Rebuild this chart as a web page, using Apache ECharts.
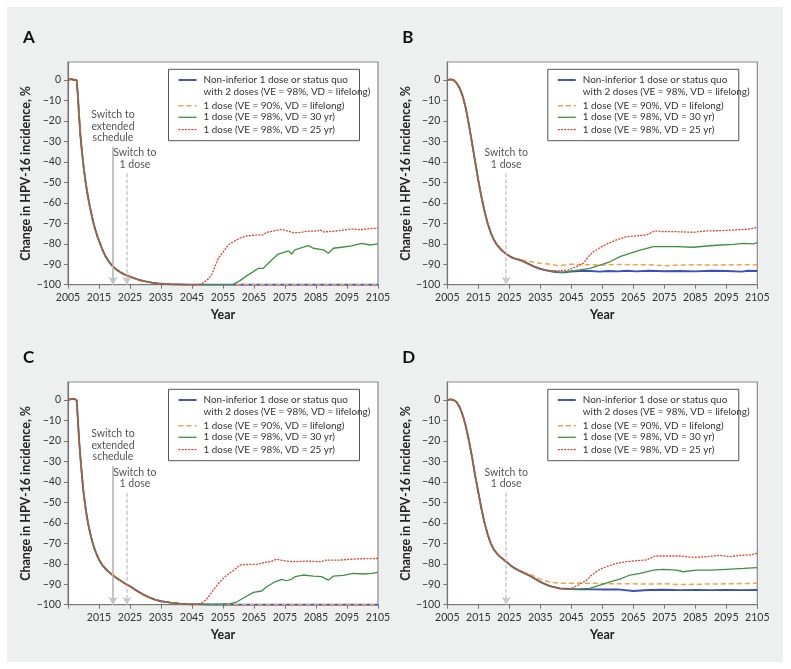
<!DOCTYPE html>
<html><head><meta charset="utf-8">
<script src="https://cdn.jsdelivr.net/npm/echarts@6/dist/echarts.min.js"></script>
<style>html,body{margin:0;padding:0;background:#fff}#c{width:791px;height:669px}</style>
</head><body><div id="c"></div>
<script>
// ---------- tick labels ----------
const xTicks = [2005,2015,2025,2035,2045,2055,2065,2075,2085,2095,2105];
const xTicksC = [2015,2025,2035,2045,2055,2065,2075,2085,2095,2105];
const yTicks = [0,-10,-20,-30,-40,-50,-60,-70,-80,-90,-100];

// ---------- series names ----------
const seriesNames = [
  'Non-inferior 1 dose or status quo with 2 doses (VE = 98%, VD = lifelong)',
  '1 dose (VE = 90%, VD = lifelong)',
  '1 dose (VE = 98%, VD = 30 yr)',
  '1 dose (VE = 98%, VD = 25 yr)'
];
const legendLines = [
  'Non-inferior 1 dose or status quo',
  'with 2 doses (VE = 98%, VD = lifelong)',
  '1 dose (VE = 90%, VD = lifelong)',
  '1 dose (VE = 98%, VD = 30 yr)',
  '1 dose (VE = 98%, VD = 25 yr)'
];

// ---------- Panel A ----------
const A_base = [[2005,0],[2005.5,0.3],[2006,0.5],[2006.5,0.2],[2007,0],[2007.8,0],[2008.2,-8],[2008.6,-18],[2009,-27],[2009.5,-35],[2010,-42],[2010.5,-48],[2011,-53],[2011.5,-57.5],[2012,-61.5],[2012.5,-65],[2013,-68.5],[2013.5,-71.5],[2014,-74],[2014.5,-76.5],[2015,-78.5],[2016,-82.5],[2017,-85.8],[2018,-88.3],[2019,-90.3],[2020,-91.8],[2021,-93],[2022,-94],[2023,-94.8],[2024,-95.5],[2025,-96.1],[2026,-96.7],[2027,-97.2],[2028,-97.7],[2030,-98.4],[2032,-99],[2034,-99.4],[2036,-99.6],[2038,-99.8],[2041,-99.9],[2044,-100],[2047,-100]];
const A_blue = [[2060,-100],[2105,-100]];
const A_orange = [[2060,-100],[2105,-100]];
const A_green = [[2058.3,-99.8],[2060.5,-98],[2062.6,-95.7],[2064.8,-93.6],[2066.4,-92],[2068,-92],[2070.2,-88.7],[2072.8,-85],[2074.5,-84.3],[2076.1,-83.5],[2077.2,-85],[2078.2,-83],[2080.9,-81.7],[2082.5,-80.9],[2084.1,-82.2],[2087.4,-83],[2089,-84.6],[2090.6,-82.2],[2093.3,-81.7],[2096.5,-81],[2099.7,-79.8],[2102.4,-80.6],[2105,-80.1]];
const A_red = [[2048,-99.7],[2049.7,-98],[2051.3,-95.3],[2052.4,-91.2],[2053.5,-87.1],[2055.1,-83.9],[2056.7,-80.6],[2058.3,-79],[2060.5,-77.3],[2062.6,-76.2],[2065.9,-75.7],[2068,-75.7],[2069.1,-74.4],[2071.2,-73.8],[2073.9,-73],[2075.5,-73.6],[2077.7,-74.6],[2079.8,-74.6],[2082,-73.9],[2085.2,-73.8],[2086.3,-73.1],[2087.4,-74.2],[2090.6,-73.9],[2093.8,-73.3],[2096.5,-72.8],[2099.2,-73.1],[2102.4,-72.6],[2105,-72.4]];

// ---------- Panel B ----------
const B_base = [[2005,0],[2006,0.3],[2007,0],[2008,-1.5],[2009,-4],[2010,-8],[2011,-14],[2012,-22],[2013,-31],[2014,-40],[2015,-49],[2016,-57],[2017,-64],[2018,-70],[2019,-74.5],[2020,-78],[2021,-80.5],[2022,-82.3],[2023,-83.8],[2024,-85],[2025,-86],[2026,-86.8],[2027,-87.4],[2028,-87.7]];
const B_blue = [[2029,-88.2],[2030,-89],[2031.7,-90.2],[2033,-91.2],[2034.9,-92.2],[2036.5,-92.9],[2038.1,-93.3],[2040,-93.8],[2041.3,-94],[2043,-93.9],[2044.6,-93.6],[2047.8,-93.3],[2051,-93.3],[2054.2,-93.6],[2057,-93.3],[2060,-93.5],[2063,-93.2],[2066,-93.5],[2070,-93.2],[2075,-93.4],[2080,-93.3],[2085,-93.5],[2090,-93.2],[2095,-93.3],[2100,-93.6],[2102,-93.2],[2105,-93.3]];
const B_orange = [[2029,-87.9],[2031.7,-88.7],[2034.9,-89.5],[2038.1,-90],[2040.8,-90.8],[2044.6,-90],[2050,-90.2],[2055,-90.4],[2060,-90.1],[2065,-90.3],[2070,-90.2],[2075,-90.7],[2080,-90.4],[2085,-90.2],[2090,-90.4],[2095,-90.3],[2100,-90.3],[2105,-90.3]];
const B_green = [[2029,-88.2],[2030,-89],[2031.7,-90.2],[2033,-91.2],[2034.9,-92.2],[2036.5,-92.9],[2038.1,-93.3],[2040,-93.8],[2041.3,-94],[2043,-93.9],[2044.6,-93.4],[2047.8,-92.8],[2051,-92],[2054.2,-90.4],[2057.5,-88.8],[2060.7,-86.3],[2063.9,-84.7],[2067.2,-83.1],[2071.5,-81.4],[2074.7,-81.4],[2079,-81.4],[2084.4,-81.7],[2088.7,-81.1],[2093,-80.6],[2097.3,-80.3],[2100.5,-79.8],[2103.7,-80.1],[2105,-79.5]];
const B_red = [[2029,-88.2],[2030,-89],[2031.7,-90.2],[2033,-91.2],[2034.9,-92.2],[2036.5,-92.8],[2038.1,-93.1],[2041.3,-93.2],[2044,-92.8],[2046.7,-91.2],[2048.9,-89.5],[2050.5,-86.3],[2052.1,-83.9],[2054.8,-81.4],[2056.9,-79.8],[2059.6,-78.1],[2062.8,-76.5],[2065.5,-76.2],[2069.3,-75.7],[2072,-73.7],[2074.7,-74.1],[2079,-74.1],[2084.4,-74.4],[2088.7,-73.7],[2093,-73.6],[2097.3,-73.3],[2101.6,-72.9],[2103.7,-72.5],[2105,-72]];

// ---------- Panel C ----------
const C_base = [[2005,0],[2006,0.5],[2007,0.5],[2007.8,0],[2008.2,-10],[2008.6,-20],[2009,-28],[2009.5,-37],[2010,-45],[2010.5,-51],[2011,-56],[2011.5,-60.5],[2012,-64],[2012.5,-67.3],[2013,-70],[2013.5,-72.5],[2014,-74.5],[2015,-78],[2016,-80.5],[2017,-82.3],[2018,-83.8],[2019,-85],[2020,-86.2],[2021,-87.3],[2022,-88.3],[2023,-89.3],[2024,-90.2],[2025,-91],[2027,-93],[2029,-94.8],[2031,-96.3],[2033,-97.5],[2035,-98.3],[2038,-99],[2041,-99.5],[2044,-99.8],[2047,-99.8]];
const C_blue = [[2052,-100],[2105,-100]];
const C_orange = [[2052,-100],[2105,-100]];
const C_green = [[2050,-99.8],[2057.3,-99.5],[2059.4,-98.7],[2061.6,-96.7],[2064.8,-94],[2067.5,-93.3],[2069.1,-91.2],[2071.8,-88.8],[2074,-87.6],[2075.5,-88.3],[2077.2,-87.5],[2078.2,-86.3],[2080.9,-85.5],[2084.1,-86],[2086.8,-86.3],[2089,-88],[2090.6,-86],[2093.8,-85.7],[2097,-84.7],[2100.3,-85],[2103,-84.7],[2105,-84.2]];
const C_red = [[2048,-99.4],[2049.7,-97.4],[2051.9,-92.8],[2054,-88.8],[2056.2,-85.5],[2058.3,-83.4],[2060.5,-80.6],[2063.7,-80.3],[2065.9,-80.3],[2068,-79.5],[2070.2,-79],[2072.3,-77.8],[2074.5,-78.5],[2077.7,-79],[2082,-78.7],[2086.3,-79],[2088.4,-78.2],[2092.7,-78.2],[2097,-77.7],[2101.3,-77.5],[2105,-77.4]];

// ---------- Panel D ----------
const D_base = [[2005,0],[2006,0.3],[2007,0],[2008,-1],[2009,-3.5],[2010,-7.5],[2011,-13],[2012,-20],[2013,-28],[2014,-37],[2015,-45],[2016,-53],[2017,-60],[2018,-65.5],[2019,-70],[2020,-73],[2021,-75],[2022,-76.5],[2023,-77.8],[2024,-79],[2025,-80.3],[2026,-81.5],[2027,-82.4],[2028,-83.2]];
const D_blue = [[2029,-84],[2031.7,-85.9],[2034.9,-88.8],[2038.1,-90.9],[2041.3,-92],[2044.6,-92.3],[2047.8,-92.5],[2052,-92.5],[2056,-92.6],[2060,-92.5],[2065,-93.3],[2070,-92.8],[2075,-92.7],[2080,-92.9],[2085,-92.8],[2090,-92.9],[2095,-92.8],[2100,-92.9],[2105,-92.8]];
const D_orange = [[2029,-84],[2031.7,-85.1],[2034.9,-87.5],[2038.1,-89],[2041.3,-89.5],[2044.6,-89.5],[2050,-89.5],[2055,-89.7],[2060,-89.8],[2065,-89.8],[2070,-89.9],[2075,-89.8],[2080,-90.2],[2085,-90],[2090,-89.9],[2095,-89.8],[2100,-89.7],[2105,-89.5]];
const D_green = [[2029,-84],[2031.7,-85.9],[2034.9,-88.8],[2038.1,-90.9],[2041.3,-92],[2044.6,-92.5],[2047.8,-92.3],[2051,-92],[2054.2,-90.4],[2057.5,-88.8],[2060.7,-87.5],[2063.9,-85.5],[2067.2,-84.7],[2071.5,-83.1],[2074.7,-82.7],[2079,-83.1],[2081.1,-83.9],[2085.4,-83.1],[2089.7,-83.1],[2095.1,-82.7],[2100.5,-82.3],[2105,-81.9]];
const D_red = [[2029,-84],[2031.7,-85.9],[2034.9,-88.8],[2038.1,-90.9],[2041.3,-92.2],[2044.6,-92.3],[2047.3,-90.4],[2050,-87.9],[2051.6,-85.5],[2054.2,-82.7],[2056.9,-81.1],[2059.6,-79.8],[2062.8,-79],[2066.1,-78.5],[2069.3,-78.1],[2072,-76.2],[2074.7,-76.2],[2080.1,-76.2],[2084.4,-76.9],[2088.7,-76.5],[2093,-75.9],[2096.2,-76.5],[2099.4,-75.9],[2102.6,-75.7],[2105,-74.9]];

// ---------- switch events (year, arrow top value, label) ----------
const A_switches = [[2019.5,-32.6,'Switch to\nextended\nschedule','solid'],[2024,-45.6,'Switch to\n1 dose','dashed']];
const B_switches = [[2024,-45.5,'Switch to\n1 dose','dashed']];
const C_switches = [[2019.5,-32.2,'Switch to\nextended\nschedule','solid'],[2024,-45.3,'Switch to\n1 dose','dashed']];
const D_switches = [[2024,-45.3,'Switch to\n1 dose','dashed']];

// ---------- styling ----------
const FONT = 'Lato, "Noto Sans", sans-serif';
const colors = ['#3b4fb8','#f6a04a','#3f9142','#e2402f'];
const widths = [1.9,1.5,1.3,1.3];
const dashes = ['solid',[5,3],'solid',[2,1.2]];

const panels = [
  {letter:'A', left:68, top:62, base:A_base, tails:[A_blue,A_orange,A_green,A_red], sw:A_switches, xl:xTicks},
  {letter:'B', left:447.3, top:62, base:B_base, tails:[B_blue,B_orange,B_green,B_red], sw:B_switches, xl:xTicks},
  {letter:'C', left:68, top:382, base:C_base, tails:[C_blue,C_orange,C_green,C_red], sw:C_switches, xl:xTicksC},
  {letter:'D', left:447.3, top:382, base:D_base, tails:[D_blue,D_orange,D_green,D_red], sw:D_switches, xl:xTicks}
];
const PW = 310, PH = 222.7;

const grid = [], xAxis = [], yAxis = [], series = [], title = [];
const graphic = [{type:'rect', shape:{x:7,y:7,width:776,height:655}, style:{fill:'#eef0ef'}, z:-10, silent:true}];
const minus = v => String(v).replace('-', '\u2212');

panels.forEach((p, i) => {
  grid.push({left:p.left, top:p.top, width:PW, height:PH, show:true, backgroundColor:'#fff', borderColor:'#8a8a8a', borderWidth:1.2, containLabel:false});
  xAxis.push({type:'value', gridIndex:i, min:2005, max:2105, interval:10,
    axisLine:{show:true, onZero:false, lineStyle:{color:'#777', width:1.2}},
    axisTick:{show:true, length:4, customValues:xTicks, lineStyle:{color:'#777'}},
    axisLabel:{customValues:p.xl, formatter:v => String(v), fontFamily:FONT, fontSize:10.5, color:'#333', margin:7},
    splitLine:{show:false},
    name:'Year', nameLocation:'middle', nameGap:24,
    nameTextStyle:{fontFamily:FONT, fontWeight:'bold', fontSize:12.5, color:'#222'}});
  yAxis.push({type:'value', gridIndex:i, min:-100, max:8.8,
    axisLine:{show:true, onZero:false, lineStyle:{color:'#777', width:1.2}},
    axisTick:{show:true, length:4, customValues:yTicks, lineStyle:{color:'#777'}},
    axisLabel:{customValues:yTicks, formatter:minus, fontFamily:FONT, fontSize:10.5, color:'#333', margin:7},
    splitLine:{show:false},
    name:'Change in HPV-16 incidence, %', nameLocation:'middle', nameGap:32,
    nameTextStyle:{fontFamily:FONT, fontWeight:'bold', fontSize:12.5, color:'#222'}});
  title.push({text:p.letter, left:p.left - 45, top:p.top - 33, padding:0,
    textStyle:{fontFamily:FONT, fontSize:17, fontWeight:'bold', color:'#111'}});

  p.tails.forEach((tail, k) => {
    const s = {type:'line', name:seriesNames[k], xAxisIndex:i, yAxisIndex:i,
      data:p.base.concat(tail), showSymbol:false, symbol:'none', smooth:false,
      lineStyle:{color:colors[k], width:widths[k], type:dashes[k]}, z:2+k};
    if (k === 0) {
      s.markLine = {silent:true, symbol:['none','arrow'], symbolSize:[7,8], precision:2,
        data: p.sw.map(w => [
          {coord:[w[0], w[1]],
           lineStyle:{color: w[3]==='solid' ? '#c3c3c3' : '#c9c9c9', width: w[3]==='solid' ? 2 : 1.5, type: w[3]==='solid' ? 'solid' : [4,2]},
           label:{show:true, position:'start', formatter:w[2], distance:3,
             offset:[(p.sw.length>1 && w[3]==='dashed') ? 8 : 0, 0],
             fontFamily:FONT, fontSize:10.5, lineHeight:11.7, color:'#555'}},
          {coord:[w[0], -100]}
        ])};
    }
    series.push(s);
  });

  // legend box (decorative, built from names/colours above)
  const bx = p.left + 100.5, by = p.top + 7.3;
  const g = [{type:'rect', shape:{x:bx, y:by, width:191, height:71.4}, style:{fill:'#fff', stroke:'#555', lineWidth:1}}];
  const rowsY = [10.7, 22.8, 36.4, 48.0, 60.4];
  const lineFor = [0, null, 1, 2, 3];
  rowsY.forEach((ry, r) => {
    const k = lineFor[r];
    if (k !== null) {
      g.push({type:'line', shape:{x1:bx+10, y1:by+ry, x2:bx+28, y2:by+ry},
        style:{stroke:colors[k], lineWidth:widths[k], lineDash: dashes[k]==='solid' ? null : dashes[k]}});
    }
    g.push({type:'text', x:bx+35, y:by+ry, style:{text:legendLines[r], font:'9.9px ' + FONT, fill:'#333', verticalAlign:'middle', align:'left'}});
  });
  graphic.push({type:'group', children:g, z:100});
});

const chart = echarts.init(document.getElementById('c'), null, {renderer:'canvas'});
chart.setOption({
  animation:false,
  backgroundColor:'#fff',
  textStyle:{fontFamily:FONT},
  title, grid, xAxis, yAxis, series, graphic
});
</script>
</body></html>
